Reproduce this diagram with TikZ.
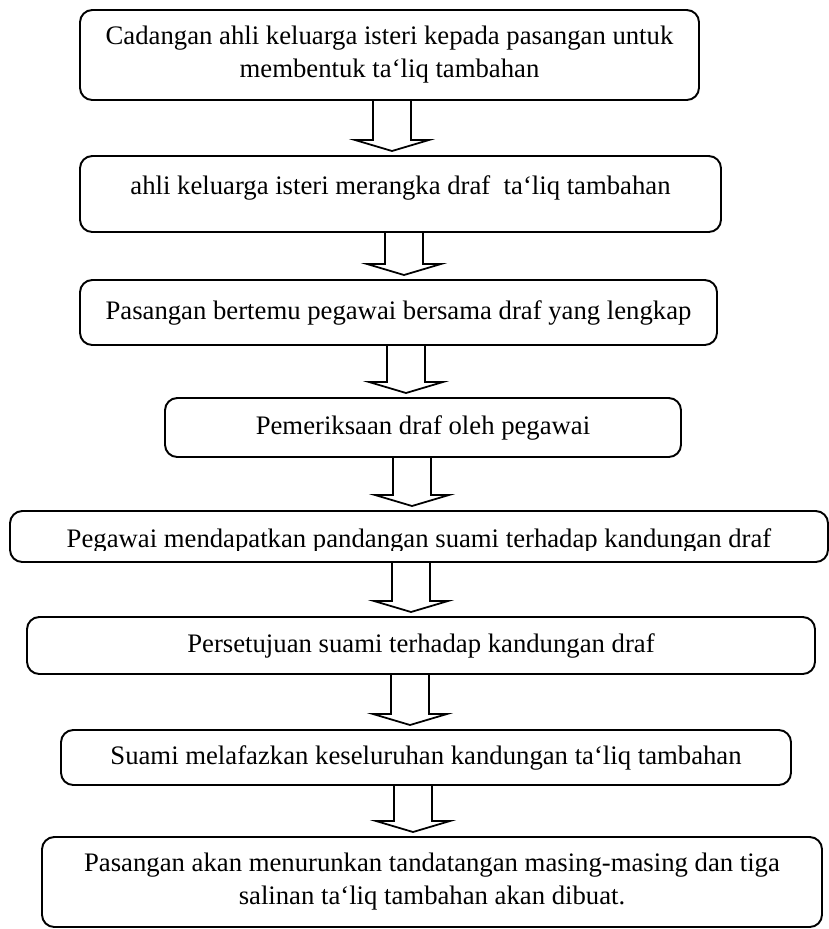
\documentclass[tikz,border=0pt]{standalone}
\usepackage{fontspec}
\setmainfont{Liberation Serif}
\usepackage{trimclip}
\usepackage{tikz}
\usetikzlibrary{positioning, calc}

% hollow block arrow: from, to, x offset
\newcommand{\hollowarrow}[3]{%
  \draw[hollow] let \p1=([xshift=#3]#1.south), \p2=(#2.north) in
    (\x1-0.38cm,\y1) -- (\x1-0.38cm,\y2+0.32cm) -- (\x1-0.74cm,\y2+0.32cm)
    -- (\x1,\y2+0.1cm) -- (\x1+0.74cm,\y2+0.32cm) -- (\x1+0.38cm,\y2+0.32cm)
    -- (\x1+0.38cm,\y1);
}

\begin{document}
\begin{tikzpicture}[
    stepbox/.style={draw, rounded corners=7pt, line width=1.1pt, outer sep=0pt, align=center, inner sep=2pt, font=\fontsize{15.2}{18.8}\selectfont},
    hollow/.style={draw, line width=1pt, line join=miter}
]
    \useasboundingbox (0,0) rectangle (16.58,-18.58);

    % Boxes
    \node[stepbox, minimum width=12.38cm, minimum height=1.80cm] (proposal) at (7.79,-1.10) {Cadangan ahli keluarga isteri kepada pasangan untuk\\membentuk ta‘liq tambahan};
    \node[stepbox, minimum width=12.82cm, minimum height=1.52cm, text height=0.36cm, text depth=0.36cm, below=1.12cm of proposal, xshift=0.22cm] (drafting) {ahli keluarga isteri merangka draf\ \ ta‘liq tambahan};
    \node[stepbox, minimum width=12.74cm, minimum height=1.30cm, below=0.96cm of drafting, xshift=-0.04cm] (meeting) {Pasangan bertemu pegawai bersama draf yang lengkap};
    \node[stepbox, minimum width=10.32cm, minimum height=1.18cm, below=1.06cm of meeting, xshift=0.49cm] (check) {Pemeriksaan draf oleh pegawai};
    % text is cut off at the bottom here
    \node[stepbox, minimum width=16.36cm, minimum height=1.02cm, text height=0.42cm, text depth=0cm, below=1.08cm of check, xshift=-0.08cm] (opinion) {\clipbox{0pt 1.5pt 0pt 0pt}{Pegawai mendapatkan pandangan suami terhadap kandungan draf}};
    \node[stepbox, minimum width=15.76cm, minimum height=1.14cm, below=1.10cm of opinion, xshift=0.04cm] (consent) {Persetujuan suami terhadap kandungan draf};
    \node[stepbox, minimum width=14.60cm, minimum height=1.10cm, below=1.12cm of consent, xshift=0.10cm] (recital) {Suami melafazkan keseluruhan kandungan ta‘liq tambahan};
    \node[stepbox, minimum width=15.60cm, minimum height=1.80cm, below=1.04cm of recital, xshift=0.12cm] (signing) {Pasangan akan menurunkan tandatangan masing-masing dan tiga\\salinan ta‘liq tambahan akan dibuat.};

    % Arrows
    \hollowarrow{proposal}{drafting}{0.05cm}
    \hollowarrow{drafting}{meeting}{0.07cm}
    \hollowarrow{meeting}{check}{0.15cm}
    \hollowarrow{check}{opinion}{-0.22cm}
    \hollowarrow{opinion}{consent}{-0.16cm}
    \hollowarrow{consent}{recital}{-0.22cm}
    \hollowarrow{recital}{signing}{-0.26cm}
\end{tikzpicture}
\end{document}
